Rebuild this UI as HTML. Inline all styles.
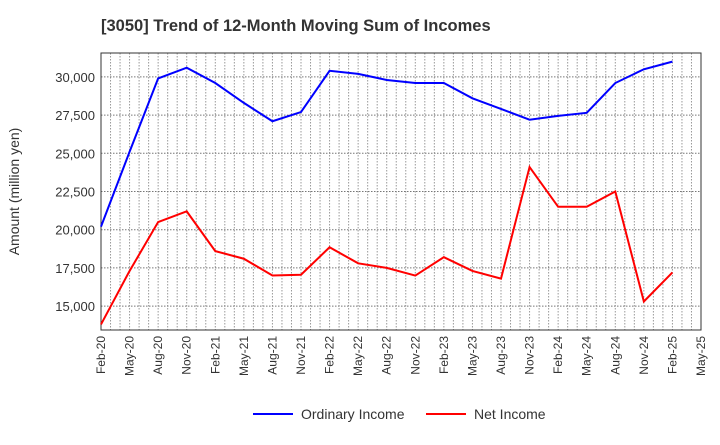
<!DOCTYPE html>
<html><head><meta charset="utf-8"><style>
body{margin:0;background:#fff;font-family:"Liberation Sans",sans-serif}
</style></head><body>
<svg id="c" width="720" height="440" xmlns="http://www.w3.org/2000/svg" font-family="Liberation Sans, sans-serif"></svg>
<script>
const categories=["Feb-20","May-20","Aug-20","Nov-20","Feb-21","May-21","Aug-21","Nov-21","Feb-22","May-22","Aug-22","Nov-22","Feb-23","May-23","Aug-23","Nov-23","Feb-24","May-24","Aug-24","Nov-24","Feb-25","May-25"];
const ordinaryIncome=[20200,25100,29900,30600,29600,28300,27100,27700,30400,30200,29800,29600,29600,28600,27900,27200,27450,27650,29600,30500,31000];
const netIncome=[13800,17300,20500,21200,18600,18100,17000,17050,18850,17800,17500,17000,18200,17300,16800,24100,21500,21500,22500,15300,17200];
const yTicks=[15000,17500,20000,22500,25000,27500,30000];
const yTickLabels=["15,000","17,500","20,000","22,500","25,000","27,500","30,000"];
const L=101,R=701,T=53,B=330,yMin=13435,yMax=31565;
const xs=i=>L+i*(R-L)/(categories.length-1);
const ys=v=>B-(v-yMin)/(yMax-yMin)*(B-T);
const svg=document.getElementById('c');const NS='http://www.w3.org/2000/svg';
function mk(t,a,p){const e=document.createElementNS(NS,t);for(const k in a)e.setAttribute(k,a[k]);(p||svg).appendChild(e);return e;}
let t=mk('text',{x:101,y:31,'text-anchor':'start','font-size':16.5,'font-weight':'bold',fill:'#333'});t.textContent='[3050]  Trend of 12-Month Moving Sum of Incomes';

const g=mk('g',{});
const months=(categories.length-1)*3;
for(let m=1;m<months;m++){const x=L+m*(R-L)/months;mk('line',{x1:x,x2:x,y1:T,y2:B,stroke:'#999','stroke-dasharray':'1.5,1.5','stroke-width':1},g);}
yTicks.forEach((v,i)=>{const y=ys(v);mk('line',{x1:L,x2:R,y1:y,y2:y,stroke:'#777','stroke-dasharray':'1.5,1.5'},g);
const tl=mk('text',{x:L-6,y:y+5,'text-anchor':'end','font-size':13,fill:'#333'});tl.textContent=yTickLabels[i];
});
categories.forEach((c,i)=>{const x=xs(i);const tl=mk('text',{transform:`translate(${x+4},${B+6}) rotate(-90)`,'text-anchor':'end','font-size':12,fill:'#333'});tl.textContent=c;
});
const fr=mk('rect',{x:L,y:T,width:R-L,height:B-T,fill:'none',stroke:'#333'});
const yt=mk('text',{transform:`translate(19,${(T+B)/2}) rotate(-90)`,'text-anchor':'middle','font-size':14,fill:'#333'});yt.textContent='Amount (million yen)';

function line(d,col,name){const p=mk('polyline',{points:d.map((v,i)=>xs(i)+','+ys(v)).join(' '),fill:'none',stroke:col,'stroke-width':2});
}
line(ordinaryIncome,'#0000ff','ordinary-income-line');line(netIncome,'#ff0000','net-income-line');
function leg(x,col,txt,name){const lg=mk('g',{});
mk('line',{x1:x,x2:x+40,y1:414,y2:414,stroke:col,'stroke-width':2},lg);const tx=mk('text',{x:x+48,y:419,'font-size':14,fill:'#333'},lg);tx.textContent=txt;}
leg(253,'#0000ff','Ordinary Income','legend-ordinary-income');leg(426,'#ff0000','Net Income','legend-net-income');
</script>
</body></html>
